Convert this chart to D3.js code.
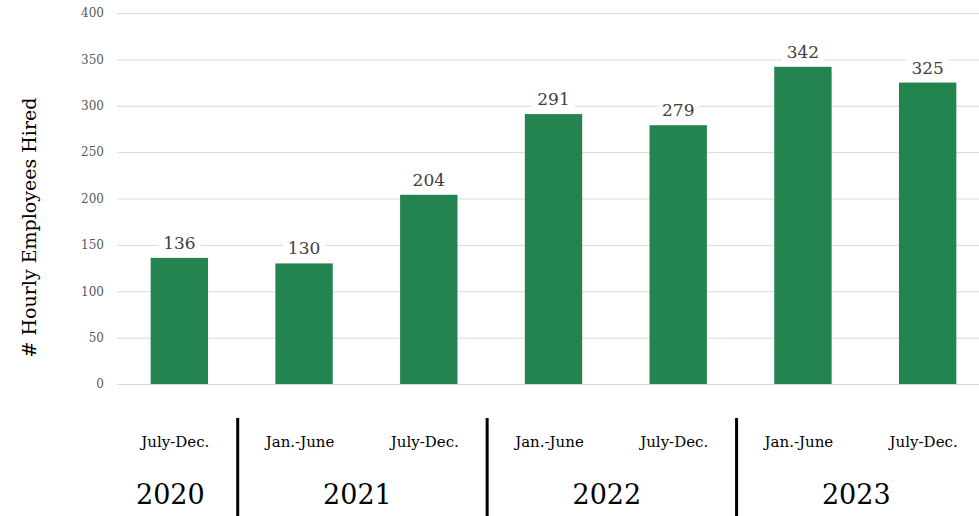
<!DOCTYPE html>
<html>
<head>
<meta charset="utf-8">
<script src="https://cdn.jsdelivr.net/npm/d3@7"></script>
<style>
  html, body { margin: 0; padding: 0; background: #fff; }
  svg { display: block; }
</style>
</head>
<body>
<div id="chart"></div>
<script>
// data
const periods = ["July-Dec.", "Jan.-June", "July-Dec.", "Jan.-June", "July-Dec.", "Jan.-June", "July-Dec."];
const years = ["2020", "2021", "2021", "2022", "2022", "2023", "2023"];
const hired = [136, 130, 204, 291, 279, 342, 325];
const yTicks = [0, 50, 100, 150, 200, 250, 300, 350, 400];

const width = 979, height = 516;
const margin = { top: 13, left: 117, bottom: 132 };
const plotRight = 990;
const serif = "'DejaVu Serif', serif";

const svg = d3.select("#chart").append("svg")
  .attr("width", width)
  .attr("height", height);

const idx = d3.range(hired.length);

const x = d3.scaleBand()
  .domain(idx)
  .range([margin.left, plotRight])
  .paddingInner(0.54)
  .paddingOuter(0.27);

const y = d3.scaleLinear()
  .domain([0, 400])
  .range([height - margin.bottom, margin.top]);

// gridlines + tick labels
const yAxis = svg.append("g")
  .attr("transform", `translate(${margin.left},0)`)
  .call(d3.axisLeft(y).tickValues(yTicks).tickSize(-(plotRight - margin.left)).tickPadding(13));

yAxis.select(".domain").remove();
yAxis.selectAll(".tick line").attr("stroke", "#d9d9d9").attr("stroke-width", 1);
yAxis.selectAll(".tick text")
  .attr("fill", "#595959")
  .style("font-family", serif)
  .style("font-size", "12px");

// bars
svg.append("g").selectAll("rect")
  .data(idx)
  .enter()
  .append("rect")
  .attr("x", i => x(i))
  .attr("y", i => y(hired[i]))
  .attr("width", x.bandwidth())
  .attr("height", i => y(0) - y(hired[i]))
  .attr("fill", "#23844f");

// value labels with white box behind
const lbl = svg.append("g").selectAll("g")
  .data(idx)
  .enter()
  .append("g")
  .attr("transform", i => `translate(${x(i) + x.bandwidth() / 2},${y(hired[i]) - 9})`);

lbl.append("rect")
  .attr("x", -21)
  .attr("y", -17)
  .attr("width", 42)
  .attr("height", 20)
  .attr("fill", "#fff");

lbl.append("text")
  .attr("text-anchor", "middle")
  .attr("fill", "#404040")
  .style("font-family", serif)
  .style("font-size", "17px")
  .text(i => hired[i]);

// period labels
svg.append("g").selectAll("text")
  .data(idx)
  .enter()
  .append("text")
  .attr("x", i => x(i) + x.bandwidth() / 2 - 4)
  .attr("y", 447)
  .attr("text-anchor", "middle")
  .attr("fill", "#000")
  .style("font-family", serif)
  .style("font-size", "15px")
  .text(i => periods[i]);

// year labels, centred on their group of bars
const groups = d3.groups(idx, i => years[i]);
svg.append("g").selectAll("text")
  .data(groups)
  .enter()
  .append("text")
  .attr("x", ([, ids]) => d3.mean(ids, i => x(i) + x.bandwidth() / 2) - 9)
  .attr("y", 504)
  .attr("text-anchor", "middle")
  .attr("fill", "#000")
  .style("font-family", serif)
  .style("font-size", "27px")
  .text(([yr]) => yr);

// separators between years
const step = x.step();
const seps = idx.filter(i => i > 0 && years[i] !== years[i - 1]);
svg.append("g").selectAll("line")
  .data(seps)
  .enter()
  .append("line")
  .attr("x1", i => x(i) - step * x.paddingInner() / 2 - 4)
  .attr("x2", i => x(i) - step * x.paddingInner() / 2 - 4)
  .attr("y1", 418)
  .attr("y2", height)
  .attr("stroke", "#000")
  .attr("stroke-width", 3);

// y axis title
svg.append("text")
  .attr("transform", `translate(36,${(margin.top + height - margin.bottom) / 2 + 29}) rotate(-90)`)
  .attr("text-anchor", "middle")
  .attr("fill", "#000")
  .style("font-family", serif)
  .style("font-size", "19px")
  .text("# Hourly Employees Hired");
</script>
</body>
</html>
